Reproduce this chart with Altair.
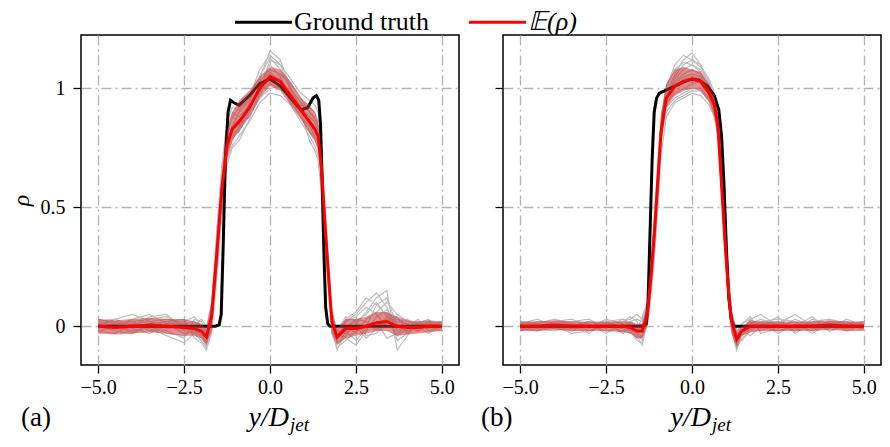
import altair as alt
import pandas as pd

# ---------------- panel (a) ----------------
x_a = [-5.0, -4.5, -4.0, -3.5, -3.0, -2.5, -2.2, -2.0, -1.85, -1.7, -1.55, -1.4, -1.25, -1.1,
       -0.9, -0.6, -0.3, 0.0, 0.3, 0.6, 0.9, 1.15, 1.3, 1.4, 1.5, 1.6, 1.7, 1.8, 1.95, 2.2,
       2.5, 2.8, 3.1, 3.4, 3.7, 4.0, 4.3, 4.6, 5.0]
mean_a = [0.0, -0.005, 0.0, 0.005, 0.0, -0.005, -0.01, -0.02, -0.045, 0.04, 0.3, 0.58, 0.76, 0.83,
          0.86, 0.92, 1.0, 1.05, 1.03, 0.97, 0.91, 0.86, 0.83, 0.8, 0.66, 0.43, 0.22, 0.02, -0.045, -0.01,
          -0.01, 0.0, 0.015, 0.02, 0.0, -0.005, -0.005, 0.0, 0.0]
lo_a = [-0.03, -0.035, -0.03, -0.025, -0.03, -0.04, -0.04, -0.05, -0.08, -0.02, 0.22, 0.52, 0.71, 0.78,
        0.82, 0.88, 0.96, 1.01, 0.99, 0.93, 0.87, 0.81, 0.78, 0.75, 0.6, 0.36, 0.16, -0.03, -0.08, -0.05,
        -0.04, -0.03, -0.02, -0.02, -0.04, -0.035, -0.03, -0.025, -0.02]
hi_a = [0.03, 0.025, 0.03, 0.035, 0.03, 0.03, 0.02, 0.01, -0.01, 0.1, 0.38, 0.64, 0.82, 0.9,
        0.95, 0.99, 1.05, 1.09, 1.08, 1.03, 0.96, 0.93, 0.9, 0.86, 0.72, 0.5, 0.28, 0.07, -0.01, 0.03,
        0.03, 0.04, 0.06, 0.06, 0.04, 0.025, 0.02, 0.025, 0.02]
samples_a = [
    [0.02, 0.0, 0.03, 0.05, 0.01, -0.03, -0.02, -0.05, -0.08, 0.0, 0.25, 0.55, 0.74, 0.80, 0.82, 0.90, 1.02, 1.10, 1.05, 0.95, 0.88, 0.84, 0.80, 0.78, 0.62, 0.40, 0.18, 0.0, -0.06, 0.02, 0.05, 0.10, 0.14, 0.08, -0.02, 0.0, -0.02, 0.01, 0.0],
    [-0.02, -0.03, 0.01, -0.01, -0.04, -0.07, -0.03, -0.01, -0.06, 0.08, 0.36, 0.62, 0.80, 0.88, 0.92, 0.97, 1.05, 1.13, 1.08, 1.00, 0.94, 0.90, 0.88, 0.84, 0.72, 0.48, 0.26, 0.05, -0.03, -0.05, -0.08, -0.02, 0.04, 0.07, -0.06, -0.03, 0.01, -0.01, 0.02],
    [0.0, 0.03, 0.05, 0.02, 0.03, 0.01, 0.02, 0.0, -0.03, 0.03, 0.28, 0.54, 0.70, 0.76, 0.80, 0.86, 0.94, 0.98, 0.97, 0.93, 0.86, 0.80, 0.76, 0.72, 0.60, 0.38, 0.20, 0.03, -0.02, 0.04, 0.02, -0.04, -0.03, 0.02, 0.03, 0.01, -0.01, 0.02, -0.01],
    [-0.01, 0.01, -0.02, 0.0, 0.02, 0.03, -0.05, -0.07, -0.1, -0.02, 0.22, 0.50, 0.72, 0.84, 0.90, 0.95, 1.03, 1.08, 1.06, 1.02, 0.96, 0.90, 0.87, 0.85, 0.70, 0.45, 0.24, 0.04, -0.07, -0.04, 0.01, 0.06, 0.12, 0.15, -0.1, -0.04, 0.02, 0.0, 0.01],
    [0.01, 0.02, 0.0, 0.04, 0.05, -0.02, 0.01, -0.03, -0.04, 0.06, 0.34, 0.64, 0.82, 0.90, 0.88, 0.93, 0.99, 1.02, 1.00, 0.96, 0.93, 0.92, 0.90, 0.86, 0.68, 0.42, 0.2, 0.0, -0.1, -0.02, 0.03, 0.02, -0.02, 0.03, 0.04, -0.02, 0.0, -0.03, 0.0],
    [0.0, -0.02, -0.03, 0.01, -0.02, -0.05, 0.03, 0.02, -0.02, 0.1, 0.4, 0.66, 0.84, 0.88, 0.86, 0.90, 0.97, 1.06, 1.04, 0.97, 0.88, 0.82, 0.79, 0.74, 0.58, 0.36, 0.17, -0.02, -0.05, 0.0, -0.03, 0.03, 0.06, 0.1, 0.05, 0.02, 0.01, 0.03, -0.01],
    [0.03, 0.01, 0.02, -0.02, 0.0, 0.01, -0.01, -0.04, -0.07, 0.02, 0.27, 0.52, 0.70, 0.78, 0.84, 0.94, 1.04, 1.16, 1.12, 1.00, 0.92, 0.88, 0.86, 0.82, 0.65, 0.44, 0.23, 0.02, -0.04, -0.02, -0.06, -0.01, 0.02, -0.05, -0.03, 0.0, 0.02, -0.01, 0.01],
    [-0.02, 0.0, 0.01, 0.02, -0.01, 0.0, 0.0, -0.02, -0.05, 0.05, 0.32, 0.60, 0.78, 0.82, 0.85, 0.88, 0.96, 1.00, 1.01, 0.98, 0.90, 0.85, 0.82, 0.80, 0.68, 0.47, 0.25, 0.03, -0.05, 0.02, 0.04, 0.08, 0.05, 0.0, 0.02, 0.01, -0.02, 0.0, 0.0],
    [0.01, -0.01, 0.02, 0.03, 0.04, 0.0, -0.03, -0.06, -0.09, -0.03, 0.2, 0.48, 0.68, 0.75, 0.78, 0.87, 0.98, 1.12, 1.1, 0.99, 0.9, 0.78, 0.74, 0.7, 0.55, 0.34, 0.15, -0.03, -0.09, -0.06, -0.02, 0.0, 0.09, 0.12, 0.0, -0.02, 0.0, 0.02, 0.01],
    [-0.03, 0.02, -0.01, -0.03, 0.01, 0.02, 0.04, 0.0, -0.03, 0.07, 0.38, 0.68, 0.86, 0.92, 0.91, 0.96, 1.08, 1.14, 1.1, 1.04, 0.98, 0.95, 0.93, 0.9, 0.74, 0.5, 0.28, 0.06, -0.02, -0.03, 0.0, -0.05, -0.01, 0.04, 0.02, 0.03, -0.01, 0.0, -0.02],
    [0.0, 0.01, -0.03, 0.0, -0.03, -0.04, 0.0, 0.03, 0.0, 0.09, 0.3, 0.57, 0.75, 0.84, 0.87, 0.91, 1.0, 1.04, 1.03, 0.94, 0.89, 0.87, 0.84, 0.81, 0.64, 0.41, 0.21, 0.01, -0.06, 0.03, 0.06, 0.12, 0.09, 0.05, -0.04, -0.01, 0.03, -0.02, 0.0],
    [0.02, 0.03, 0.0, 0.01, 0.02, -0.01, -0.02, -0.03, -0.06, 0.01, 0.26, 0.53, 0.73, 0.81, 0.83, 0.92, 1.01, 1.07, 1.02, 0.96, 0.91, 0.86, 0.83, 0.79, 0.63, 0.39, 0.19, 0.01, -0.04, 0.0, 0.02, 0.05, 0.1, 0.04, 0.01, -0.03, 0.0, 0.01, 0.02],
]
truth_x_a = [-5.0, -1.6, -1.48, -1.42, -1.36, -1.3, -1.22, -1.15, -1.05, -0.9, -0.6, -0.3, 0.0, 0.3,
             0.6, 0.9, 1.1, 1.25, 1.35, 1.42, 1.47, 1.52, 1.57, 1.62, 1.68, 1.75, 5.0]
truth_a = [0.0, 0.0, 0.005, 0.05, 0.35, 0.7, 0.9, 0.95, 0.94, 0.93, 0.97, 1.02, 1.04, 1.01,
           0.96, 0.91, 0.92, 0.96, 0.97, 0.95, 0.85, 0.6, 0.3, 0.08, 0.01, 0.0, 0.0]

# ---------------- panel (b) ----------------
x_b = [-5.0, -4.5, -4.0, -3.5, -3.0, -2.5, -2.0, -1.8, -1.6, -1.45, -1.3, -1.2, -1.1, -1.0,
       -0.9, -0.75, -0.5, -0.25, 0.0, 0.25, 0.5, 0.65, 0.75, 0.85, 0.95, 1.05, 1.15, 1.3, 1.45,
       1.7, 2.0, 2.5, 3.0, 3.5, 4.0, 4.5, 5.0]
mean_b = [0.0, 0.0, 0.005, 0.0, 0.0, 0.0, 0.0, -0.005, -0.02, -0.02, 0.05, 0.2, 0.38, 0.6,
          0.82, 0.96, 1.01, 1.03, 1.04, 1.03, 0.98, 0.93, 0.85, 0.62, 0.38, 0.17, 0.02, -0.055, -0.02,
          0.0, 0.0, 0.0, 0.0, 0.0, 0.005, 0.0, 0.0]
lo_b = [-0.02, -0.02, -0.015, -0.02, -0.02, -0.02, -0.025, -0.03, -0.05, -0.05, 0.0, 0.13, 0.3, 0.52,
        0.76, 0.92, 0.97, 0.99, 1.0, 0.99, 0.94, 0.88, 0.79, 0.55, 0.3, 0.1, -0.03, -0.09, -0.04,
        -0.025, -0.02, -0.02, -0.02, -0.02, -0.015, -0.02, -0.02]
hi_b = [0.02, 0.02, 0.025, 0.02, 0.02, 0.02, 0.02, 0.02, 0.01, 0.01, 0.1, 0.27, 0.46, 0.68,
        0.9, 1.02, 1.08, 1.09, 1.08, 1.07, 1.02, 0.97, 0.9, 0.69, 0.46, 0.24, 0.07, -0.02, 0.0,
        0.025, 0.02, 0.02, 0.02, 0.02, 0.025, 0.02, 0.02]
samples_b = [
    [0.02, 0.01, 0.03, 0.01, 0.0, 0.02, 0.03, 0.01, -0.03, -0.06, 0.02, 0.16, 0.33, 0.56, 0.80, 0.95, 1.03, 1.06, 1.08, 1.06, 1.00, 0.95, 0.86, 0.63, 0.4, 0.18, 0.02, -0.08, -0.03, 0.03, 0.05, 0.0, -0.02, 0.03, 0.01, 0.02, 0.0],
    [-0.01, -0.02, 0.0, -0.03, -0.02, 0.01, -0.01, -0.03, -0.01, 0.0, 0.08, 0.24, 0.42, 0.64, 0.86, 1.00, 1.10, 1.14, 1.12, 1.09, 1.04, 0.98, 0.89, 0.66, 0.42, 0.2, 0.03, -0.05, -0.06, -0.02, 0.02, 0.03, 0.02, -0.01, 0.0, -0.01, 0.01],
    [0.0, 0.02, 0.01, 0.02, 0.03, -0.01, 0.02, 0.04, 0.02, -0.03, 0.0, 0.12, 0.28, 0.48, 0.72, 0.88, 0.94, 0.96, 0.98, 0.97, 0.93, 0.88, 0.8, 0.58, 0.34, 0.14, 0.0, -0.06, 0.01, 0.04, -0.03, -0.01, 0.03, 0.0, 0.02, 0.0, -0.01],
    [0.01, -0.01, -0.02, 0.0, 0.02, 0.0, -0.02, 0.0, -0.04, -0.08, 0.04, 0.22, 0.40, 0.62, 0.84, 0.98, 1.05, 1.1, 1.12, 1.1, 1.03, 0.96, 0.88, 0.68, 0.45, 0.22, 0.05, -0.03, -0.02, -0.04, 0.0, 0.04, -0.03, 0.02, 0.03, 0.01, 0.02],
    [-0.02, 0.0, 0.02, 0.01, -0.01, 0.03, 0.01, -0.02, -0.02, 0.04, 0.1, 0.26, 0.44, 0.66, 0.85, 0.94, 0.98, 1.0, 1.02, 1.03, 0.98, 0.9, 0.82, 0.6, 0.36, 0.15, -0.02, -0.1, -0.03, 0.0, 0.02, -0.02, 0.0, 0.04, -0.02, 0.01, 0.0],
    [0.01, 0.03, 0.0, -0.02, 0.01, -0.02, 0.0, 0.01, 0.0, -0.01, 0.03, 0.18, 0.36, 0.58, 0.82, 0.97, 1.06, 1.12, 1.15, 1.1, 1.01, 0.95, 0.87, 0.64, 0.39, 0.17, 0.01, -0.07, -0.01, 0.02, -0.02, 0.01, 0.05, 0.0, -0.01, 0.03, 0.0],
    [0.0, -0.01, 0.02, 0.03, 0.0, 0.0, 0.03, -0.01, -0.05, -0.04, 0.06, 0.2, 0.35, 0.6, 0.8, 0.92, 0.96, 0.98, 1.0, 1.0, 0.96, 0.92, 0.84, 0.62, 0.37, 0.16, 0.02, -0.04, -0.04, -0.01, 0.01, -0.03, 0.01, -0.02, 0.01, -0.02, 0.01],
    [-0.01, 0.01, -0.01, 0.0, -0.03, 0.02, -0.01, 0.02, 0.03, 0.02, 0.07, 0.21, 0.39, 0.61, 0.83, 0.99, 1.02, 1.05, 1.06, 1.05, 0.99, 0.94, 0.86, 0.64, 0.4, 0.19, 0.04, -0.05, -0.02, 0.01, 0.03, 0.0, -0.01, 0.01, 0.0, 0.0, -0.01],
    [0.01, 0.0, -0.01, 0.02, 0.01, -0.03, 0.01, -0.02, -0.06, -0.07, 0.01, 0.14, 0.31, 0.54, 0.78, 0.93, 1.0, 1.04, 1.05, 1.04, 0.97, 0.91, 0.83, 0.6, 0.35, 0.13, -0.01, -0.09, -0.05, -0.02, 0.01, 0.02, -0.01, 0.02, 0.0, -0.01, 0.02],
    [-0.02, 0.02, 0.01, -0.01, 0.0, 0.01, 0.02, 0.03, 0.05, 0.03, 0.09, 0.25, 0.45, 0.67, 0.87, 1.01, 1.08, 1.11, 1.1, 1.08, 1.02, 0.97, 0.9, 0.7, 0.46, 0.23, 0.06, -0.02, 0.01, 0.03, -0.01, 0.0, 0.02, -0.03, 0.01, 0.02, -0.01],
    [0.0, -0.02, 0.01, 0.01, -0.02, 0.01, -0.03, 0.0, -0.02, -0.05, 0.03, 0.17, 0.34, 0.57, 0.79, 0.9, 0.95, 0.97, 0.99, 0.99, 0.95, 0.9, 0.83, 0.61, 0.38, 0.17, 0.03, -0.04, -0.03, 0.01, 0.0, -0.02, 0.0, 0.01, -0.02, 0.0, 0.01],
    [0.02, 0.0, 0.0, -0.01, 0.02, 0.0, 0.0, 0.02, 0.0, 0.01, 0.06, 0.19, 0.37, 0.59, 0.81, 0.96, 1.04, 1.08, 1.1, 1.07, 1.0, 0.94, 0.85, 0.63, 0.39, 0.18, 0.03, -0.06, -0.02, 0.0, 0.01, 0.01, -0.02, 0.0, 0.02, 0.01, 0.0],
]
truth_x_b = [-5.0, -1.4, -1.33, -1.28, -1.22, -1.16, -1.1, -1.03, -0.95, -0.8, -0.5, -0.2, 0.0,
             0.2, 0.45, 0.65, 0.78, 0.86, 0.93, 1.0, 1.07, 1.14, 1.22, 5.0]
truth_b = [0.0, 0.0, 0.01, 0.1, 0.4, 0.7, 0.9, 0.96, 0.98, 0.99, 1.01, 1.03, 1.04,
           1.035, 1.01, 0.97, 0.91, 0.8, 0.6, 0.33, 0.12, 0.03, 0.0, 0.0]

x_ticks = [-5.0, -2.5, 0.0, 2.5, 5.0]
y_ticks = [0.0, 0.5, 1.0]
legend_labels = ["Ground truth", "𝔼(ρ)"]
panel_labels = ["(a)", "(b)"]

for s in samples_a:
    assert len(s) == len(x_a)
for s in samples_b:
    assert len(s) == len(x_b)

SERIF = "Liberation Serif"
W, H = 378, 330
GRID = dict(grid=True, gridColor="#b3b3b3", gridDash=[10, 4, 2, 4], gridWidth=1.3)


def panel(xs, mean, lo, hi, samples, tx, tv, first, label):
    rows = []
    for i, s in enumerate(samples):
        for xv, yv in zip(xs, s):
            rows.append({"x": xv, "v": yv, "s": i})
    sdf = pd.DataFrame(rows)
    mdf = pd.DataFrame({"x": xs, "mean": mean, "lo": lo, "hi": hi})
    tdf = pd.DataFrame({"x": tx, "v": tv})

    xsc = alt.Scale(domain=[-5.5, 5.5], nice=False, zero=False)
    ysc = alt.Scale(domain=[-0.163, 1.225], nice=False, zero=False)
    xax = alt.Axis(values=x_ticks, format=".1f", title=None, labelFont=SERIF, labelFontSize=20,
                   labelColor="black", tickColor="black", tickSize=8, tickWidth=1.3,
                   labelPadding=4, domain=False, **GRID)
    if first:
        yax = alt.Axis(values=y_ticks, labelExpr="'' + datum.value", title="ρ", titleFont=SERIF,
                       titleFontStyle="italic", titleFontWeight="normal", titleFontSize=24,
                       titleColor="black", titlePadding=7, labelFont=SERIF, labelFontSize=20,
                       labelColor="black", tickColor="black", tickSize=8, tickWidth=1.3,
                       labelPadding=8, domain=False, **GRID)
    else:
        yax = alt.Axis(values=y_ticks, labels=False, title=None, tickColor="black", tickSize=8,
                       tickWidth=1.3, domain=False, **GRID)

    X = lambda f: alt.X(f, type="quantitative", scale=xsc, axis=xax)
    Y = lambda f: alt.Y(f, type="quantitative", scale=ysc, axis=yax)

    gray = alt.Chart(sdf).mark_line(color="#bdbdbd", strokeWidth=1.2).encode(
        x=X("x"), y=Y("v"), detail="s:N")
    truth = alt.Chart(tdf).mark_line(color="black", strokeWidth=3).encode(x=X("x"), y=Y("v"))
    band = alt.Chart(mdf).mark_area(color="#c83232", opacity=0.55).encode(
        x=X("x"), y=Y("lo"), y2="hi")
    red = alt.Chart(mdf).mark_line(color="#ff0000", strokeWidth=3).encode(x=X("x"), y=Y("mean"))

    one = pd.DataFrame({"k": [0]})
    lab = alt.Chart(pd.DataFrame({"t": [label]})).mark_text(
        font=SERIF, fontSize=27, align="left", baseline="middle", color="black").encode(
        x=alt.value(-60 if first else -22), y=alt.value(383), text="t:N")
    xt1 = alt.Chart(pd.DataFrame({"t": ["y/D"]})).mark_text(
        font=SERIF, fontSize=28, fontStyle="italic", align="right", baseline="alphabetic",
        color="black").encode(x=alt.value(208), y=alt.value(391), text="t:N")
    xt2 = alt.Chart(pd.DataFrame({"t": ["jet"]})).mark_text(
        font=SERIF, fontSize=19, fontStyle="italic", align="left", baseline="alphabetic",
        color="black").encode(x=alt.value(209), y=alt.value(396), text="t:N")
    layers = [gray, truth, band, red, lab, xt1, xt2]
    if first:
        ly = -12.7
        l1 = alt.Chart(one).mark_rule(color="black", strokeWidth=3).encode(
            x=alt.value(154), x2=alt.value(211), y=alt.value(ly))
        t1 = alt.Chart(pd.DataFrame({"t": [legend_labels[0]]})).mark_text(
            font=SERIF, fontSize=26, align="left", baseline="middle", color="black").encode(
            x=alt.value(213), y=alt.value(ly), text="t:N")
        l2 = alt.Chart(one).mark_rule(color="#ff0000", strokeWidth=3).encode(
            x=alt.value(388), x2=alt.value(445), y=alt.value(ly))
        t2 = alt.Chart(pd.DataFrame({"t": [legend_labels[1]]})).mark_text(
            font=SERIF, fontSize=26, fontStyle="italic", align="left", baseline="middle",
            color="black").encode(x=alt.value(447), y=alt.value(ly), text="t:N")
        layers += [l1, t1, l2, t2]
    return alt.layer(*layers).properties(width=W, height=H)


pa = panel(x_a, mean_a, lo_a, hi_a, samples_a, truth_x_a, truth_a, True, panel_labels[0])
pb = panel(x_b, mean_b, lo_b, hi_b, samples_b, truth_x_b, truth_b, False, panel_labels[1])

chart = alt.hconcat(pa, pb, spacing=44, bounds="flush").properties(
    padding={"left": 0, "top": 0, "right": 0, "bottom": 0}
).configure_view(stroke="black", strokeWidth=1.5).configure_axis(
    labelFont=SERIF, titleFont=SERIF
).configure_text(font=SERIF)

chart.save("out.html", embed_options={"renderer": "svg", "actions": False})
